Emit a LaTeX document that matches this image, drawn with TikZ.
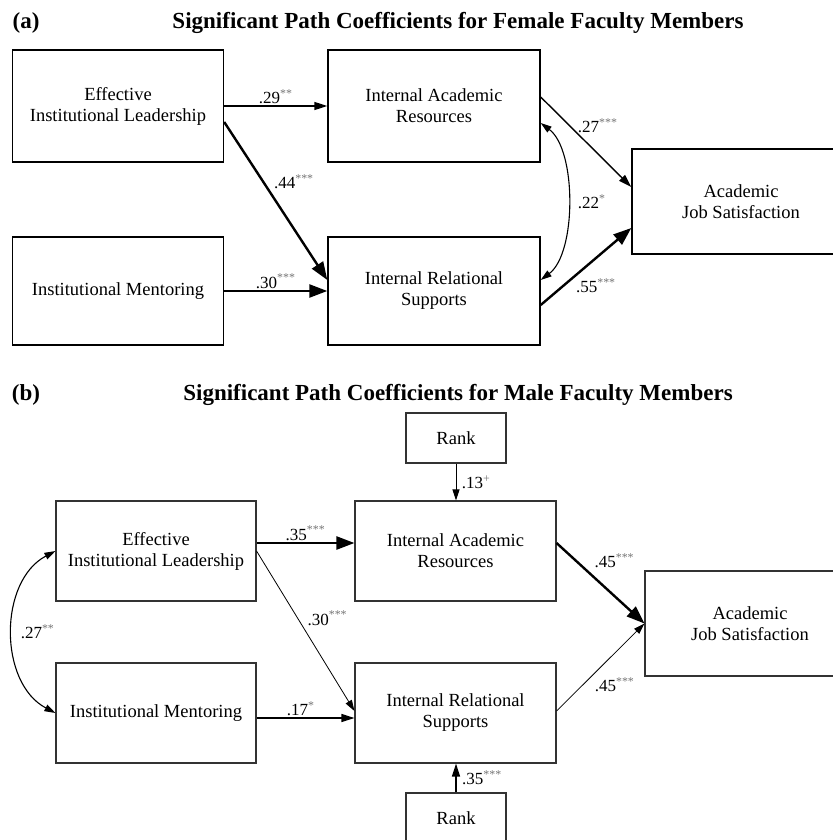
\documentclass[tikz,border=0pt]{standalone}
\usepackage{fontspec}
\setmainfont{Liberation Serif}
\usetikzlibrary{arrows.meta}

\newcommand{\pcoef}[2]{#1\textsuperscript{\textcolor{black!55}{#2}}}

\begin{document}
\begin{tikzpicture}[x=1pt,y=-1pt,
    boxa/.style={draw=black, line width=1.4pt, align=center, inner sep=0pt,
        font=\fontsize{18.5}{21}\selectfont},
    boxb/.style={draw=black!80, line width=1.1pt, align=center, inner sep=0pt,
        font=\fontsize{18.5}{21}\selectfont},
    coef/.style={font=\fontsize{17}{19}\selectfont, inner sep=1.5pt},
    heading/.style={font=\bfseries\fontsize{23}{26}\selectfont, inner sep=0pt},
    thinarr/.style={line width=0.8pt, -{Triangle[length=11pt,width=7pt]}},
    midarr/.style={line width=1.4pt, -{Triangle[length=13pt,width=8pt]}},
    thickarr/.style={line width=2.4pt, -{Triangle[length=18pt,width=13pt]}},
    corr/.style={line width=1.1pt, {Triangle[length=11pt,width=7pt]}-{Triangle[length=11pt,width=7pt]}}]

    \useasboundingbox (0,0) rectangle (832,840);

    % (a) female faculty
    \node[heading] (tagA) at (26,23) {(a)};
    \node[heading] (titleA) at (458,23) {Significant Path Coefficients for Female Faculty Members};

    \node[boxa, minimum width=211pt, minimum height=112pt] (eilA) at (118,106) {Effective\\Institutional Leadership};
    \node[boxa, minimum width=212pt, minimum height=112pt] (iarA) at (434,106) {Internal Academic\\Resources};
    \node[boxa, minimum width=211pt, minimum height=108pt] (imA) at (118,291) {Institutional Mentoring};
    \node[boxa, minimum width=212pt, minimum height=108pt] (irsA) at (434,291) {Internal Relational\\Supports};
    \node[boxa, minimum width=218pt, minimum height=105pt] (ajsA) at (741,201.5) {Academic\\Job Satisfaction};

    \draw[midarr] (eilA.east) -- node[coef, above] {\pcoef{.29}{**}} (iarA.west);
    \draw[thickarr] ([yshift=-16pt]eilA.east) -- node[coef, pos=.38, anchor=west, xshift=8pt] {\pcoef{.44}{***}} ([yshift=11pt]irsA.west);
    \draw[thickarr] (imA.east) -- node[coef, above] {\pcoef{.30}{***}} (irsA.west);
    \draw[midarr] ([yshift=9pt]iarA.east) -- node[coef, pos=.32, anchor=west, xshift=6pt] {\pcoef{.27}{***}} ([yshift=14.5pt]ajsA.west);
    \draw[thickarr] ([yshift=-14pt]irsA.east) -- node[coef, pos=.25, anchor=west, xshift=10pt] {\pcoef{.55}{***}} ([yshift=-26.5pt]ajsA.west);
    \draw[corr] ([yshift=-17pt]iarA.east) .. controls +(36,27) and +(36,-27) .. node[coef, anchor=west, xshift=8pt] {\pcoef{.22}{*}} ([yshift=11pt]irsA.east);

    % (b) male faculty
    \node[heading] (tagB) at (26,395) {(b)};
    \node[heading] (titleB) at (458,395) {Significant Path Coefficients for Male Faculty Members};

    \node[boxb, minimum width=100pt, minimum height=50pt] (rankT) at (456,438) {Rank};
    \node[boxb, minimum width=200pt, minimum height=100pt] (eilB) at (156,551) {Effective\\Institutional Leadership};
    \node[boxb, minimum width=201pt, minimum height=100pt] (iarB) at (455.5,551) {Internal Academic\\Resources};
    \node[boxb, minimum width=200pt, minimum height=100pt] (imB) at (156,713) {Institutional Mentoring};
    \node[boxb, minimum width=201pt, minimum height=100pt] (irsB) at (455.5,713) {Internal Relational\\Supports};
    \node[boxb, minimum width=210pt, minimum height=105pt] (ajsB) at (750,623.5) {Academic\\Job Satisfaction};
    \node[boxb, minimum width=100pt, minimum height=50pt] (rankB) at (456,818) {Rank};

    \draw[thinarr] (rankT.south) -- node[coef, right, xshift=4pt] {\pcoef{.13}{+}} (rankT.south |- iarB.north);
    \draw[thickarr] ([yshift=8pt]eilB.east) -- node[coef, above] {\pcoef{.35}{***}} ([yshift=8pt]iarB.west);
    \draw[thinarr] (eilB.east) -- node[coef, pos=.42, anchor=west, xshift=8pt] {\pcoef{.30}{***}} ([yshift=2pt]irsB.west);
    \draw[midarr] ([yshift=-5pt]imB.east) -- node[coef, pos=.45, above] {\pcoef{.17}{*}} ([yshift=-5pt]irsB.west);
    \draw[thickarr] ([yshift=8pt]iarB.east) -- node[coef, pos=.22, anchor=west, xshift=16pt] {\pcoef{.45}{***}} (ajsB.west);
    \draw[thinarr] ([yshift=2pt]irsB.east) -- node[coef, pos=.3, anchor=west, xshift=10pt] {\pcoef{.45}{***}} (ajsB.west);
    \draw[midarr] (rankB.north) -- node[coef, right, xshift=4pt] {\pcoef{.35}{***}} (rankB.north |- irsB.south);
    \draw[corr] (eilB.west) .. controls +(-57,30) and +(-57,-30) .. node[coef, anchor=west, xshift=6pt] {\pcoef{.27}{**}} (imB.west);
\end{tikzpicture}
\end{document}
